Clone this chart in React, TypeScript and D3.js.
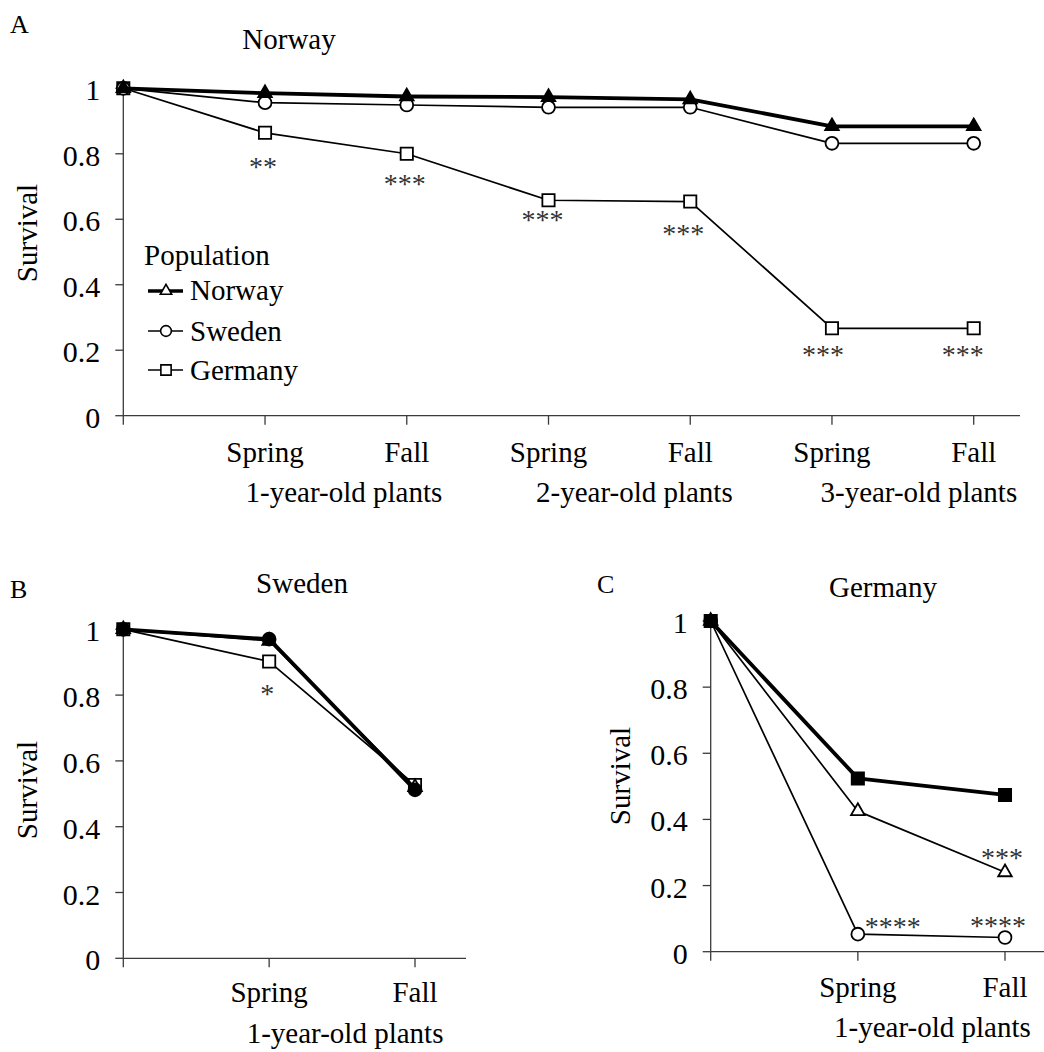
import React from "react";
import * as d3 from "d3";

const FONT = "'Liberation Serif', serif";

// ---------- Data ----------
const populations = ["Norway", "Sweden", "Germany"];
const yTickValues = [0, 0.2, 0.4, 0.6, 0.8, 1];
const yTickLabels = ["0", "0.2", "0.4", "0.6", "0.8", "1"];

const seasonsA = ["", "Spring", "Fall", "Spring", "Fall", "Spring", "Fall"];
const ageGroupsA = ["1-year-old plants", "2-year-old plants", "3-year-old plants"];
const seasonsBC = ["", "Spring", "Fall"];
const ageGroupsBC = ["1-year-old plants"];

// Panel A: Norway site
const siteNorwayNorway = [1, 0.985, 0.975, 0.973, 0.966, 0.884, 0.884];
const siteNorwaySweden = [1, 0.956, 0.949, 0.942, 0.942, 0.832, 0.832];
const siteNorwayGermany = [1, 0.864, 0.8, 0.658, 0.654, 0.267, 0.267];
const starsAText = ["**", "***", "***", "***", "***", "***"];
const starsASeries = ["Germany", "Germany", "Germany", "Germany", "Germany", "Germany"];
const starsAIndex = [1, 2, 3, 4, 5, 6];

// Panel B: Sweden site
const siteSwedenNorway = [1, 0.965, 0.52];
const siteSwedenSweden = [1, 0.97, 0.512];
const siteSwedenGermany = [1, 0.902, 0.527];
const starsBText = ["*"];
const starsBSeries = ["Germany"];
const starsBIndex = [1];

// Panel C: Germany site
const siteGermanyNorway = [1, 0.425, 0.24];
const siteGermanySweden = [1, 0.053, 0.043];
const siteGermanyGermany = [1, 0.524, 0.474];
const starsCText = ["****", "****", "***"];
const starsCSeries = ["Sweden", "Sweden", "Norway"];
const starsCIndex = [1, 2, 2];

// ---------- Layout (positions / styles only) ----------
const starOffsetsA = [[-2, 30], [-2, 26], [-6, 16], [-7, 28], [-9, 23], [-11, 23]];
const starOffsetsB = [[-2, 28]];
const starOffsetsC = [[35, -11], [-7, -15], [-3, -18]];

const symbolFor: Record<string, any> = {
  Norway: d3.symbolTriangle,
  Sweden: d3.symbolCircle,
  Germany: d3.symbolSquare,
};
const symbolSize: Record<string, number> = { Norway: 80, Sweden: 130, Germany: 150 };

type PanelCfg = {
  letter: string;
  letterX: number;
  letterY: number;
  title: string;
  titleX: number;
  titleY: number;
  x0: number;
  x1: number;
  axisEnd: number;
  y0: number;
  y1: number;
  seasons: string[];
  seasonY: number;
  groups: string[];
  groupOffsets: number[];
  groupY: number;
  survX: number;
  survY: number;
  home: string;
  values: Record<string, number[]>;
  starText: string[];
  starSeries: string[];
  starIndex: number[];
  starOffsets: number[][];
};

const txt = (size: number) => ({ fontFamily: FONT, fontSize: size + "px" });

function Panel({ c }: { c: PanelCfg }) {
  const n = c.seasons.length;
  const x = d3.scaleLinear().domain([0, n - 1]).range([c.x0, c.x1]);
  const y = d3.scaleLinear().domain([0, 1]).range([c.y0, c.y1]);
  const line = d3
    .line<number>()
    .x((_, i) => x(i))
    .y((d) => y(d));
  const order = populations.filter((p) => p !== c.home).reverse().concat([c.home]);
  const axisColor = "#3a3a3a";
  return (
    <g>
      <text x={c.letterX} y={c.letterY} style={txt(26)}>{c.letter}</text>
      <text x={c.titleX} y={c.titleY} style={txt(29)} textAnchor="middle">{c.title}</text>
      <text
        transform={`translate(${c.survX},${c.survY}) rotate(-90)`}
        style={txt(29)}
        textAnchor="middle"
      >
        Survival
      </text>
      {/* y axis */}
      <line x1={x(0)} x2={x(0)} y1={y(1) - 3} y2={y(0)} stroke={axisColor} strokeWidth={1.3} />
      {yTickValues.map((v, i) => (
        <g key={"yt" + i}>
          <line x1={x(0) - 8} x2={x(0)} y1={y(v)} y2={y(v)} stroke={axisColor} strokeWidth={1.3} />
          <text x={x(0) - 23} y={y(v) + 12} style={txt(30)} textAnchor="end">
            {yTickLabels[i]}
          </text>
        </g>
      ))}
      {/* x axis */}
      <line x1={x(0)} x2={c.axisEnd} y1={y(0)} y2={y(0)} stroke={axisColor} strokeWidth={1.3} />
      {c.seasons.map((s, i) => (
        <g key={"xt" + i}>
          <line x1={x(i)} x2={x(i)} y1={y(0)} y2={y(0) + 9} stroke={axisColor} strokeWidth={1.3} />
          {s && (
            <text x={x(i)} y={c.seasonY} style={txt(29)} textAnchor="middle">
              {s}
            </text>
          )}
        </g>
      ))}
      {c.groups.map((g, gi) => (
        <text
          key={"g" + gi}
          x={(x(gi * 2 + 1) + x(gi * 2 + 2)) / 2 + c.groupOffsets[gi]}
          y={c.groupY}
          style={txt(29)}
          textAnchor="middle"
        >
          {g}
        </text>
      ))}
      {/* series */}
      {order.map((p) => {
        const vals = c.values[p];
        const home = p === c.home;
        const sym = d3.symbol(symbolFor[p], symbolSize[p])();
        return (
          <g key={p}>
            <path d={line(vals) || ""} fill="none" stroke="#000" strokeWidth={home ? 3.8 : 1.7} strokeLinejoin="round" />
            {vals.map((v, i) => (
              <path
                key={i}
                d={sym || ""}
                transform={`translate(${x(i)},${y(v)})`}
                fill={home ? "#000" : "#fff"}
                stroke="#000"
                strokeWidth={1.8}
              />
            ))}
          </g>
        );
      })}
      {/* significance stars */}
      {c.starText.map((t, i) => {
        const v = c.values[c.starSeries[i]][c.starIndex[i]];
        return (
          <text
            key={"s" + i}
            x={x(c.starIndex[i]) + c.starOffsets[i][0]}
            y={y(v) + c.starOffsets[i][1] + 13}
            style={txt(28)}
            fill="#333"
            textAnchor="middle"
          >
            {t}
          </text>
        );
      })}
    </g>
  );
}

function Legend() {
  const items = populations;
  const lineYs = [291, 331, 370];
  const textYs = [300, 341, 380];
  return (
    <g>
      <text x={144} y={265} style={txt(29)}>Population</text>
      {items.map((p, i) => {
        const sym = d3.symbol(symbolFor[p], symbolSize[p] * 0.7)();
        return (
          <g key={p}>
            <line x1={148} x2={183} y1={lineYs[i]} y2={lineYs[i]} stroke="#000" strokeWidth={i === 0 ? 3.4 : 1.6} />
            <path d={sym || ""} transform={`translate(166,${lineYs[i]})`} fill="#fff" stroke="#000" strokeWidth={1.6} />
            <text x={190} y={textYs[i]} style={txt(29)}>{p}</text>
          </g>
        );
      })}
    </g>
  );
}

const panelA: PanelCfg = {
  letter: "A", letterX: 10, letterY: 33,
  title: "Norway", titleX: 289, titleY: 49,
  x0: 123.3, x1: 973.7, axisEnd: 1020, y0: 415.7, y1: 88.3,
  seasons: seasonsA, seasonY: 462, groups: ageGroupsA, groupOffsets: [8, 15, 16], groupY: 502,
  survX: 37, survY: 233, home: "Norway",
  values: { Norway: siteNorwayNorway, Sweden: siteNorwaySweden, Germany: siteNorwayGermany },
  starText: starsAText, starSeries: starsASeries, starIndex: starsAIndex, starOffsets: starOffsetsA,
};

const panelB: PanelCfg = {
  letter: "B", letterX: 10, letterY: 598,
  title: "Sweden", titleX: 302, titleY: 593,
  x0: 123.3, x1: 415, axisEnd: 466, y0: 958.3, y1: 629.3,
  seasons: seasonsBC, seasonY: 1002, groups: ageGroupsBC, groupOffsets: [3], groupY: 1043,
  survX: 37, survY: 790, home: "Sweden",
  values: { Norway: siteSwedenNorway, Sweden: siteSwedenSweden, Germany: siteSwedenGermany },
  starText: starsBText, starSeries: starsBSeries, starIndex: starsBIndex, starOffsets: starOffsetsB,
};

const panelC: PanelCfg = {
  letter: "C", letterX: 597, letterY: 593,
  title: "Germany", titleX: 883, titleY: 597,
  x0: 710.7, x1: 1005, axisEnd: 1044, y0: 951.7, y1: 621,
  seasons: seasonsBC, seasonY: 997, groups: ageGroupsBC, groupOffsets: [1], groupY: 1037,
  survX: 630, survY: 776, home: "Germany",
  values: { Norway: siteGermanyNorway, Sweden: siteGermanySweden, Germany: siteGermanyGermany },
  starText: starsCText, starSeries: starsCSeries, starIndex: starsCIndex, starOffsets: starOffsetsC,
};

export default function App() {
  return (
    <svg
      width={1044}
      height={1052}
      viewBox="0 0 1044 1052"
      style={{ position: "absolute", left: 0, top: 0, background: "#fff", fontFamily: FONT }}
    >
      <rect width={1044} height={1052} fill="#fff" />
      <Panel c={panelA} />
      <Legend />
      <Panel c={panelB} />
      <Panel c={panelC} />
    </svg>
  );
}
